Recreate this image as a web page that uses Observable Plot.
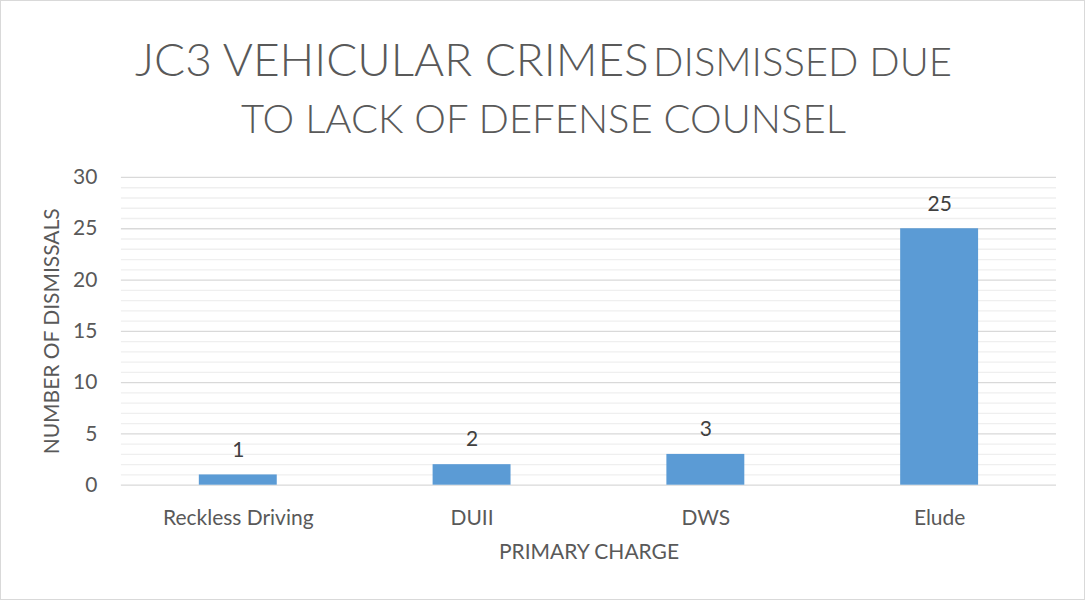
<!DOCTYPE html>
<html>
<head>
<meta charset="utf-8">
<script src="https://cdn.jsdelivr.net/npm/d3@7"></script>
<script src="https://cdn.jsdelivr.net/npm/@observablehq/plot@0.6"></script>
<style>
  html, body { margin: 0; padding: 0; background: #fff; }
  #wrap { position: relative; width: 1085px; height: 600px; box-sizing: border-box; border: 1px solid #d9d9d9; background: #fff; overflow: hidden; }
  #title { position: absolute; left: 0; top: 0; width: 1085px; height: 150px; text-align: center; color: #595959; font-family: Lato, "Open Sans", sans-serif; font-weight: 300; line-height: 56px; padding-top: 30px; box-sizing: border-box; z-index: 2; pointer-events: none; }
  #title .big { font-size: 46px; }
  #title .small { font-size: 40px; }
  #title .line2 { margin-top: -8px; font-size: 40px; }
  #chart { position: absolute; left: -1px; top: 149px; z-index: 1; }
</style>
</head>
<body>
<div id="wrap">
  <div id="title"><div class="line1"><span class="big">JC3 VEHICULAR CRIMES</span> <span class="small">DISMISSED DUE</span></div><div class="line2">TO LACK OF DEFENSE COUNSEL</div></div>
  <div id="chart"></div>
</div>
<script>
const categories = ["Reckless Driving", "DUII", "DWS", "Elude"];
const values = [1, 2, 3, 25];
const yTicks = [0, 5, 10, 15, 20, 25, 30];
const minorTicks = d3.range(0, 31).filter(v => v % 5 !== 0);
const yLabel = "NUMBER OF DISMISSALS";
const xLabel = "PRIMARY CHARGE";

const data = categories.map((c, i) => ({category: c, value: values[i]}));
const font = "Lato, 'Open Sans', sans-serif";

const chart = Plot.plot({
  width: 1085,
  height: 450,
  marginTop: 27,
  marginBottom: 115,
  marginLeft: 121,
  marginRight: 28,
  style: {fontFamily: font, fontSize: "21px", color: "#595959", background: "transparent", overflow: "visible"},
  x: {domain: categories, paddingInner: 0.667, paddingOuter: 0.333, label: null},
  y: {domain: [0, 30], label: null},
  marks: [
    Plot.ruleY(minorTicks, {stroke: "#efefef", strokeWidth: 1.3}),
    Plot.ruleY(yTicks, {stroke: "#d9d9d9", strokeWidth: 1.3}),
    Plot.barY(data, {x: "category", y: "value", fill: "#5b9bd5"}),
    Plot.text(data, {x: "category", y: "value", text: d => String(d.value), dy: -25, lineAnchor: "middle", fill: "#404040", fontSize: 21}),
    Plot.axisY({ticks: yTicks, tickSize: 0, tickPadding: 24, label: null, fill: "#595959", fontSize: 21}),
    Plot.axisX({tickSize: 0, tickPadding: 25, label: null, fill: "#595959", fontSize: 21}),
    Plot.text([yLabel], {frameAnchor: "left", rotate: -90, dx: -69, textAnchor: "middle", lineAnchor: "middle", fill: "#595959", fontSize: 21}),
    Plot.text([xLabel], {frameAnchor: "bottom", dy: 67, textAnchor: "middle", lineAnchor: "middle", fill: "#595959", fontSize: 21})
  ]
});
document.getElementById("chart").appendChild(chart);
</script>
</body>
</html>
